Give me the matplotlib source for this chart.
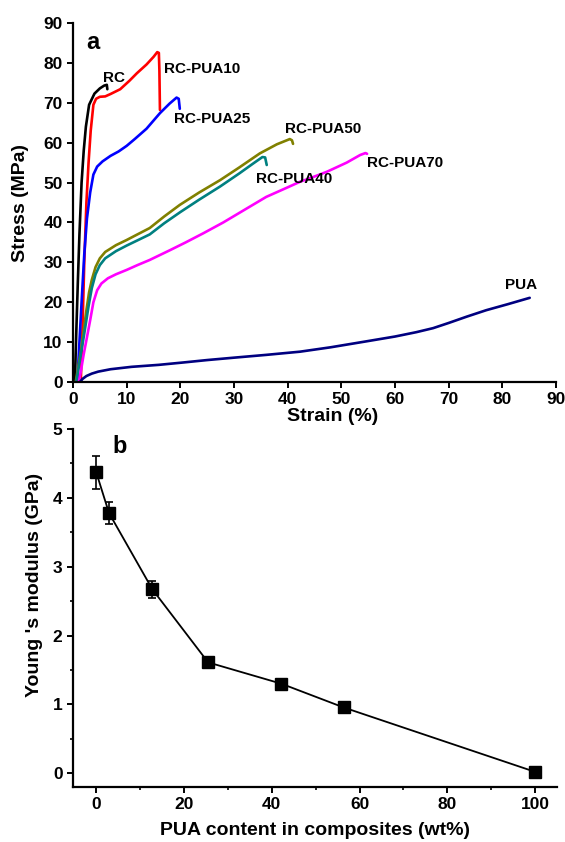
import matplotlib
matplotlib.use("Agg")
import matplotlib.pyplot as plt
from matplotlib.ticker import MultipleLocator

plt.rcParams['font.family'] = ['Liberation Sans', 'DejaVu Sans']
plt.rcParams['font.weight'] = 'bold'

# ---- Panel a: stress-strain curves ----
rc_x = [0.35, 0.6, 0.9, 1.2, 1.6, 2.0, 2.4, 3.0, 4.0, 5.0, 5.8, 6.3, 6.4]
rc_y = [0, 12, 25, 37, 50, 58, 64, 69.5, 72.3, 73.6, 74.3, 74.5, 73.4]

p10_x = [1.45, 1.8, 2.1, 2.5, 2.9, 3.3, 3.8, 4.3, 5.0, 6.0, 7.0, 8.8, 10.5, 11.9, 13.7, 15.0, 15.7, 16.0, 16.1, 16.2]
p10_y = [0, 15, 30, 45, 55, 63, 69.5, 71.0, 71.5, 71.6, 72.2, 73.4, 75.5, 77.4, 79.6, 81.5, 82.7, 82.5, 78, 68.2]

p25_x = [0.8, 1.2, 1.6, 2.1, 2.6, 3.2, 3.8, 4.5, 5.5, 7, 8.5, 10, 11.5, 13.7, 16.2, 18.0, 19.3, 19.7, 19.9]
p25_y = [0, 10, 20, 32, 41, 47.5, 52, 54, 55.3, 56.7, 57.8, 59.2, 60.9, 63.5, 67.4, 69.8, 71.3, 71.0, 68.5]

p50_x = [0.5, 1.0, 1.5, 2.0, 2.5, 3.0, 3.5, 4.2, 5.0, 6, 8, 10, 12, 14.3, 17, 19.9, 23.5, 27.4, 31, 34.8, 38, 40.4, 40.8, 41]
p50_y = [0, 4, 8, 13, 18, 22.5, 25.6, 28.8, 31, 32.6, 34.3, 35.6, 37, 38.6, 41.5, 44.4, 47.5, 50.6, 53.8, 57.3, 59.6, 60.9, 60.6, 59.7]

p40_x = [0.6, 1.1, 1.6, 2.2, 2.9, 3.5, 4.2, 5, 6, 8, 10, 12, 14.3, 17, 20, 23.5, 27.4, 31, 33.6, 35.3, 35.8, 36.1]
p40_y = [0, 4, 8, 13, 19, 23.5, 27, 29.3, 31, 32.8, 34.2, 35.5, 37.0, 39.8, 42.6, 45.7, 49.0, 52.3, 54.8, 56.4, 56.3, 54.4]

p70_x = [1.1, 1.5, 2.0, 2.5, 3.2, 3.8, 4.5, 5.3, 6.5, 8, 10, 12, 14.3, 18, 21, 24.3, 28, 32, 36, 40, 42.3, 44, 47.3, 51, 53.5, 54.5, 54.8]
p70_y = [0, 3, 7, 10.5, 15.5, 20, 23, 24.7, 26.0, 27.0, 28.1, 29.3, 30.6, 33.0, 35.0, 37.3, 40, 43.2, 46.4, 48.8, 50.2, 51.0, 52.7, 55.0, 56.9, 57.4, 57.2]

pua_x = [1.3, 1.8, 2.5, 3.5, 4.7, 7, 10.9, 16, 20.6, 25, 30, 36, 42.3, 48, 54.7, 60, 64, 67.1, 70, 73.4, 77, 81, 85.1]
pua_y = [0, 0.8, 1.5, 2.1, 2.6, 3.2, 3.8, 4.3, 4.9, 5.5, 6.1, 6.8, 7.6, 8.7, 10.2, 11.4, 12.5, 13.5, 14.8, 16.4, 18, 19.5, 21.1]

curve_names = ['RC', 'RC-PUA10', 'RC-PUA25', 'RC-PUA50', 'RC-PUA40', 'RC-PUA70', 'PUA']
curve_colors = ['#000000', '#FF0000', '#0000FF', '#808000', '#008080', '#FF00FF', '#000080']
curves = [(rc_x, rc_y), (p10_x, p10_y), (p25_x, p25_y), (p50_x, p50_y),
          (p40_x, p40_y), (p70_x, p70_y), (pua_x, pua_y)]
label_pos = [(5.5, 76.2), (17.0, 78.4), (18.8, 65.9), (39.5, 63.5), (34.1, 50.8), (54.7, 55.0), (80.5, 24.3)]

# ---- Panel b: Young's modulus ----
pua_content = [0, 2.9, 12.8, 25.5, 42.2, 56.4, 100]
modulus = [4.37, 3.78, 2.67, 1.61, 1.30, 0.955, 0.02]
modulus_err = [0.24, 0.16, 0.12, 0.07, 0.07, 0.05, 0.03]

fig = plt.figure(figsize=(5.65, 8.42), dpi=100)
W, H = 565, 842
ax1 = fig.add_axes([73 / W, (H - 382) / H, (556 - 73) / W, (382 - 23) / H])
ax2 = fig.add_axes([73 / W, (H - 787) / H, (557 - 73) / W, (787 - 429) / H])

for (x, y), c in zip(curves, curve_colors):
    ax1.plot(x, y, color=c, lw=1.9, solid_capstyle='round', solid_joinstyle='round')
for name, (tx, ty) in zip(curve_names, label_pos):
    ax1.text(tx, ty, name, fontsize=11, fontweight='bold', ha='left', va='center')
ax1.text(2.5, 85.0, 'a', fontsize=17, fontweight='bold', ha='left', va='center')

ax1.set_xlim(0, 90)
ax1.set_ylim(0, 90)
ax1.xaxis.set_major_locator(MultipleLocator(10))
ax1.yaxis.set_major_locator(MultipleLocator(10))
ax1.set_xlabel('Strain (%)', fontsize=14, fontweight='bold')
ax1.set_ylabel('Stress (MPa)', fontsize=14, fontweight='bold')
ax1.xaxis.set_label_coords(0.538, -0.073)
ax1.yaxis.set_label_coords(-0.092, 0.50)

ax2.errorbar(pua_content, modulus, yerr=modulus_err, color='black', lw=1.3,
             marker='s', markersize=9, mfc='black', mec='black', capsize=3,
             elinewidth=1.2, capthick=1.2)
ax2.text(3.7, 4.74, 'b', fontsize=17, fontweight='bold', ha='left', va='center')
ax2.set_xlim(-5.3, 105)
ax2.set_ylim(-0.2, 5)
ax2.xaxis.set_major_locator(MultipleLocator(20))
ax2.xaxis.set_minor_locator(MultipleLocator(10))
ax2.yaxis.set_major_locator(MultipleLocator(1))
ax2.yaxis.set_minor_locator(MultipleLocator(0.5))
ax2.set_xlabel('PUA content in composites (wt%)', fontsize=14, fontweight='bold')
ax2.set_ylabel("Young 's modulus (GPa)", fontsize=14, fontweight='bold')
ax2.xaxis.set_label_coords(0.50, -0.098)
ax2.yaxis.set_label_coords(-0.062, 0.564)

for ax in (ax1, ax2):
    ax.spines['top'].set_visible(False)
    ax.spines['right'].set_visible(False)
    ax.spines['left'].set_linewidth(1.6)
    ax.spines['bottom'].set_linewidth(1.6)
    ax.tick_params(which='major', direction='out', length=4.5, width=1.4, labelsize=12.5, pad=3)
    ax.tick_params(which='minor', direction='out', length=2.5, width=1.2)
    for lab in ax.get_xticklabels() + ax.get_yticklabels():
        lab.set_fontweight('bold')

fig.savefig('out.png', dpi=100)
